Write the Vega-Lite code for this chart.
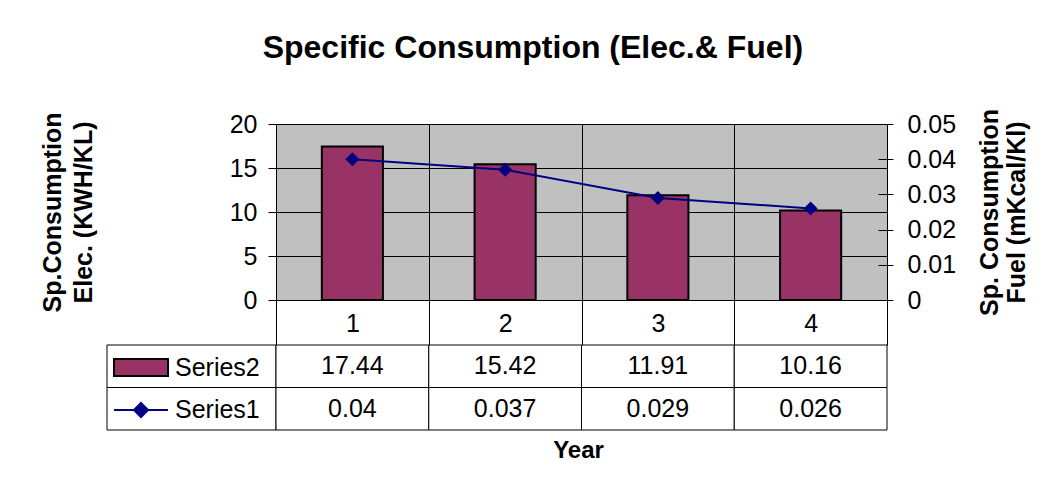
{
  "$schema": "https://vega.github.io/schema/vega-lite/v6.json",
  "padding": {"left": 39, "top": 32, "right": 5, "bottom": 5},
  "background": "white",
  "config": {"font": "Liberation Sans", "view": {"stroke": null}},
  "title": {"text": "Specific Consumption (Elec.& Fuel)", "fontSize": 32, "fontWeight": "bold", "color": "black", "anchor": "middle", "offset": 43, "dx": -2},
  "datasets": {
    "d": [
      {"year": "1", "series": "Series2", "value": 17.44},
      {"year": "2", "series": "Series2", "value": 15.42},
      {"year": "3", "series": "Series2", "value": 11.91},
      {"year": "4", "series": "Series2", "value": 10.16},
      {"year": "1", "series": "Series1", "value": 0.04},
      {"year": "2", "series": "Series1", "value": 0.037},
      {"year": "3", "series": "Series1", "value": 0.029},
      {"year": "4", "series": "Series1", "value": 0.026}
    ]
  },
  "columns": 2,
  "spacing": {"row": 45, "column": 0},
  "bounds": "flush",
  "concat": [
    {
      "width": 169, "height": 176,
      "data": {"values": []},
      "mark": "point"
    },
    {
      "width": 611, "height": 176,
      "data": {"name": "d"},
      "view": {"stroke": "black", "strokeWidth": 1, "fill": "#c0c0c0"},
      "encoding": {
        "x": {
          "field": "year", "type": "nominal",
          "scale": {"domain": ["1", "2", "3", "4"], "paddingInner": 0, "paddingOuter": 0},
          "axis": {"orient": "bottom", "tickBand": "extent", "grid": true, "gridColor": "black", "gridOpacity": 1, "gridWidth": 1, "tickSize": 45, "tickColor": "black", "tickWidth": 1, "domain": false, "labelFontSize": 25, "labelColor": "black", "labelPadding": -34, "labelAngle": 0, "title": null}
        }
      },
      "layer": [
        {
          "transform": [{"filter": "datum.series == 'Series2'"}],
          "mark": {"type": "bar", "width": {"band": 0.4}, "stroke": "black", "strokeWidth": 2},
          "encoding": {
            "y": {
              "field": "value", "type": "quantitative",
              "scale": {"domain": [0, 20]},
              "axis": {"orient": "left", "values": [0, 5, 10, 15, 20], "format": "d", "grid": true, "gridColor": "black", "gridOpacity": 1, "gridWidth": 1, "domain": true, "domainColor": "black", "ticks": true, "tickColor": "black", "tickSize": 8, "labelFontSize": 25, "labelColor": "black", "labelPadding": 11, "title": ["Sp.Consumption", "Elec. (KWH/KL)"], "titleFontSize": 25, "titleFontWeight": "bold", "titleColor": "black", "titlePadding": 133, "titleLineHeight": 31}
            },
            "fill": {
              "datum": "Series2", "type": "nominal",
              "scale": {"range": ["#993366"]},
              "legend": {"orient": "none", "legendX": 6, "legendY": 215.5, "title": null, "padding": 0, "symbolType": "M-1,-0.315H1V0.315H-1Z", "symbolSize": 2916, "symbolStrokeColor": "black", "symbolStrokeWidth": 2, "symbolOpacity": 1, "labelFontSize": 25, "labelColor": "black", "labelOffset": 6}
            }
          }
        },
        {
          "transform": [{"filter": "datum.series == 'Series1'"}],
          "encoding": {
            "y": {
              "field": "value", "type": "quantitative",
              "scale": {"domain": [0, 0.05]},
              "axis": {"orient": "right", "values": [0, 0.01, 0.02, 0.03, 0.04, 0.05], "format": "~g", "grid": false, "domain": false, "offset": -9, "ticks": true, "tickColor": "black", "tickSize": 15, "labelFontSize": 25, "labelColor": "black", "labelPadding": 14, "title": ["Sp. Consumption", "Fuel (mKcal/Kl)"], "titleFontSize": 25, "titleFontWeight": "bold", "titleColor": "black", "titleAngle": 270, "titleBaseline": "top", "titlePadding": -5, "titleLineHeight": 27}
            }
          },
          "layer": [
            {
              "mark": {"type": "line", "strokeWidth": 2},
              "encoding": {
                "stroke": {
                  "datum": "Series1", "type": "nominal",
                  "scale": {"range": ["#000080"]},
                  "legend": {"orient": "none", "legendX": 6, "legendY": 258, "title": null, "padding": 0, "symbolType": "M-1,0H1M0,-0.26L0.26,0L0,0.26L-0.26,0Z", "symbolSize": 2916, "symbolStrokeWidth": 2, "symbolFillColor": "#000080", "symbolOpacity": 1, "labelFontSize": 25, "labelColor": "black", "labelOffset": 6}
                }
              }
            },
            {
              "mark": {"type": "point", "shape": "diamond", "filled": true, "size": 196, "color": "#000080", "opacity": 1}
            }
          ]
        }
      ],
      "resolve": {"scale": {"y": "independent"}}
    },
    {
      "width": 169, "height": 85,
      "data": {"name": "d"},
      "transform": [{"filter": "datum.year == '1'"}],
      "mark": {"type": "rect", "fill": "white", "fillOpacity": 0, "stroke": "black", "strokeWidth": 1},
      "encoding": {
        "y": {"field": "series", "type": "nominal", "scale": {"domain": ["Series2", "Series1"], "paddingInner": 0, "paddingOuter": 0}, "axis": null}
      }
    },
    {
      "width": 611, "height": 85,
      "data": {"name": "d"},
      "encoding": {
        "x": {
          "field": "year", "type": "nominal",
          "scale": {"domain": ["1", "2", "3", "4"], "paddingInner": 0, "paddingOuter": 0},
          "axis": {"title": "Year", "labels": false, "ticks": false, "domain": false, "titleFontSize": 24, "titleFontWeight": "bold", "titleColor": "black", "titlePadding": 8, "titleX": 302}
        },
        "y": {"field": "series", "type": "nominal", "scale": {"domain": ["Series2", "Series1"], "paddingInner": 0, "paddingOuter": 0}, "axis": null}
      },
      "layer": [
        {"mark": {"type": "rect", "fill": "white", "stroke": "black", "strokeWidth": 1}},
        {"mark": {"type": "text", "fontSize": 25, "color": "black"}, "encoding": {"text": {"field": "value", "type": "nominal"}}}
      ]
    }
  ]
}
